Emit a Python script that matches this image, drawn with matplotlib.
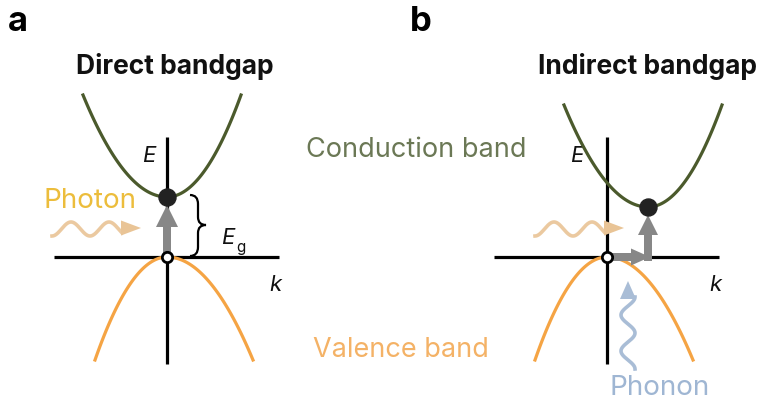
import numpy as np
import matplotlib.pyplot as plt
from matplotlib.patches import FancyArrow, PathPatch
from matplotlib.path import Path

plt.rcParams['font.family'] = ['Inter', 'DejaVu Sans']

# Schematic band diagram (pixel-like layout units, y downward)
panel_labels = ['a', 'b']
panel_titles = ['Direct bandgap', 'Indirect bandgap']
origin_x = [167, 607]          # k = 0 position for each panel
origin_y = 258                 # E = 0 (valence band top)
cb_shift = [0, 41]             # conduction band minimum offset in k
cb_gap = [60, 50]              # bandgap (height of conduction minimum)
cb_left, cb_right = 84, 74     # conduction band k-extent
cb_rise = 102
vb_left, vb_right = 72, 86     # valence band k-extent
vb_drop = 103
e_label_offset = [12, 24]      # distance of the "E" label from the axis

cb_color = '#4b5a2c'
vb_color = '#f5a444'
photon_color = '#e9c496'
phonon_color = '#a9bdd6'
arrow_color = '#878787'

fig = plt.figure(figsize=(7.64, 4.06), dpi=100)
ax = fig.add_axes([0, 0, 1, 1])
ax.set_xlim(0, 764)
ax.set_ylim(406, 0)
ax.axis('off')


def band(x0, y0, left, right, height, sign):
    kl = np.linspace(-left, 0, 60)
    kr = np.linspace(0, right, 60)
    yl = y0 + sign * height * (kl / left) ** 2
    yr = y0 + sign * height * (kr / right) ** 2
    return np.concatenate([kl, kr[1:]]) + x0, np.concatenate([yl, yr[1:]])


def wave(length, amp, period):
    t = np.linspace(0, length, 200)
    return t, -amp * np.sin(2 * np.pi * t / period - np.pi / 2)


for i in range(2):
    ox = origin_x[i]
    # axes
    ax.plot([ox - 113, ox + 112], [origin_y, origin_y], color='black', lw=2.3, zorder=2,
            solid_capstyle='butt')
    ax.plot([ox, ox], [138, 365], color='black', lw=2.3, zorder=2, solid_capstyle='butt')
    ax.text(ox - e_label_offset[i], 156, 'E', fontsize=16, style='italic', ha='right',
            va='center', color='#111111')
    ax.text(ox + 108, 285, 'k', fontsize=16, style='italic', ha='center', va='center',
            color='#111111')

    # bands
    cx, cy = band(ox + cb_shift[i], origin_y - cb_gap[i], cb_left, cb_right, cb_rise, -1)
    ax.plot(cx, cy, color=cb_color, lw=2.3, zorder=3)
    vx, vy = band(ox, origin_y, vb_left, vb_right, vb_drop, 1)
    ax.plot(vx, vy, color=vb_color, lw=2.3, zorder=3)

    # labels and titles
    ax.text([8, 410][i], 22, panel_labels[i], fontsize=25, fontweight='bold',
            ha='left', va='center')
    ax.text([175, 648][i], 67, panel_titles[i], fontsize=19, fontweight='bold',
            ha='center', va='center', color='#111111')

    # electron (filled) and hole (open)
    ax.scatter([ox + cb_shift[i]], [origin_y - cb_gap[i]], s=150, color='#222222', zorder=6)
    ax.scatter([ox], [origin_y], s=55, facecolor='white', edgecolor='black', lw=2, zorder=6)

# panel a: vertical transition
ax.add_patch(FancyArrow(origin_x[0], origin_y - 4, 0, -(cb_gap[0] - 12), width=8,
                        head_width=22, head_length=22, length_includes_head=True,
                        color=arrow_color, lw=0, zorder=4))
# brace marking the gap
bt, bb, bm = 196, 257, 226
brace = Path([(190, bt), (198, bt), (198, bt + 9), (198, bm - 8), (198, bm), (206, bm),
              (198, bm), (198, bm + 8), (198, bb - 9), (198, bb), (190, bb)],
             [Path.MOVETO, Path.CURVE3, Path.CURVE3, Path.LINETO, Path.CURVE3, Path.CURVE3,
              Path.CURVE3, Path.CURVE3, Path.LINETO, Path.CURVE3, Path.CURVE3])
ax.add_patch(PathPatch(brace, facecolor='none', edgecolor='black', lw=1.6, zorder=4))
ax.text(221, 238, 'E', fontsize=16, style='italic', ha='left', va='center', color='#111111')
ax.text(236, 248, 'g', fontsize=11, ha='left', va='center', color='#111111')

# panel b: phonon step then photon step
bx = origin_x[1]
ax.add_patch(FancyArrow(bx + 3, origin_y, 40, 0, width=8, head_width=17, head_length=19,
                        length_includes_head=True, color=arrow_color, lw=0, zorder=4))
ax.add_patch(FancyArrow(bx + 41, origin_y + 4, 0, -46, width=8, head_width=20,
                        head_length=20, length_includes_head=True, color=arrow_color,
                        lw=0, zorder=4))

# photons
for x_start in [52, 535]:
    t, w = wave(70, 7, 38)
    ax.plot(x_start + t, 230 + w, color=photon_color, lw=2.6, alpha=0.9, zorder=3)
    ax.add_patch(FancyArrow(x_start + 66, 229, 23, 0, width=0.1, head_width=15,
                            head_length=20, length_includes_head=True,
                            color=photon_color, lw=0, zorder=3))
ax.text(90, 201, 'Photon', fontsize=20, color='#ecbd3c', ha='center', va='center')

# phonon
t, w = wave(72, 7, 36)
ax.plot(628 + w, 370 - t, color=phonon_color, lw=2.6, zorder=3)
ax.add_patch(FancyArrow(628, 300, 0, -18, width=0.1, head_width=16, head_length=18,
                        length_includes_head=True, color=phonon_color, lw=0, zorder=3))
ax.text(660, 388, 'Phonon', fontsize=20, color='#9fb6d3', ha='center', va='center')

# band names
ax.text(416, 150, 'Conduction band', fontsize=19.5, color='#6b7855', ha='center', va='center')
ax.text(401, 350, 'Valence band', fontsize=19.5, color='#f4b266', ha='center', va='center')

fig.savefig('out.png', dpi=100)
